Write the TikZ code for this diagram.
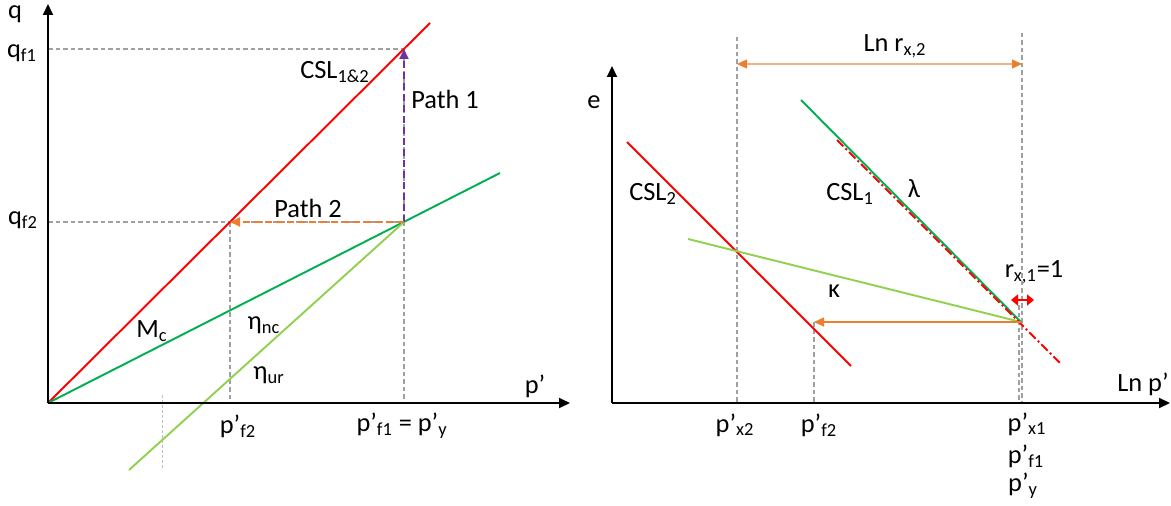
\documentclass[tikz,border=0pt]{standalone}
\usepackage{fontspec}
\setmainfont{Carlito}
\usetikzlibrary{arrows.meta,positioning}
\definecolor{cslred}{HTML}{FF0000}
\definecolor{ncgreen}{HTML}{00B050}
\definecolor{urgreen}{HTML}{92D050}
\definecolor{pathorange}{HTML}{ED7D31}
\definecolor{pathpurple}{HTML}{7030A0}
\definecolor{guide}{HTML}{A0A0A0}
\newcommand{\sbs}[1]{\textsubscript{#1}}
\tikzset{
    every picture/.style={line cap=butt,line join=round},
    axisline/.style={draw=black,line width=1.1pt,
      -{Triangle[length=2.2mm,width=2mm]}},
    guideline/.style={draw=guide,line width=0.6pt,dash pattern=on 0.9mm off 0.6mm},
    faintline/.style={draw=guide!70,line width=0.5pt,dash pattern=on 0.5mm off 0.5mm},
    cslline/.style={draw=cslred,line width=1.1pt},
    ncline/.style={draw=ncgreen,line width=1.1pt},
    urline/.style={draw=urgreen,line width=1.1pt},
    pathone/.style={draw=pathpurple,line width=1.1pt,dash pattern=on 1.4mm off 0.8mm,
      -{Triangle[length=2mm,width=1.8mm]}},
    pathtwo/.style={draw=pathorange,line width=1.1pt,dash pattern=on 1.4mm off 0.8mm,
      -{Triangle[length=2mm,width=1.8mm]}},
    shiftarrow/.style={draw=pathorange,line width=0.8pt,
      -{Triangle[length=2mm,width=1.8mm]}},
    spanarrow/.style={draw=pathorange!60,line width=0.8pt,
      {Triangle[length=2mm,width=1.8mm,color=pathorange]}-{Triangle[length=2mm,width=1.8mm,color=pathorange]}},
    unitarrow/.style={draw=cslred,line width=1.4pt,
      {Triangle[length=1.4mm,width=2.2mm]}-{Triangle[length=1.4mm,width=2.2mm]}},
    dashdot/.style={draw=cslred,line width=1.1pt,dash pattern=on 1.8mm off 0.6mm on 0.4mm off 0.6mm},
    lbl/.style={font=\fontsize{15}{17}\selectfont,inner sep=0pt,text=black}
}

\begin{document}
\begin{tikzpicture}[x=0.2mm,y=-0.2mm]
  \useasboundingbox (0,0) rectangle (1171,506);
  % q - p' plane
  \coordinate (o1) at (48,403);
  \coordinate (q1top) at (48,4);
  \coordinate (p1end) at (570,403);
  \coordinate (csltop) at (430,23);
  \coordinate (f1) at (404,49);
  \coordinate (yld) at (404,222);
  \coordinate (f2) at (230,222);
  \coordinate (ncend) at (500,173);
  \coordinate (urstart) at (129,470);
  \coordinate (qf1ax) at (48,49);
  \coordinate (qf2ax) at (48,222);
  \coordinate (pf2ax) at (230,403);
  \coordinate (pyax) at (404,403);
  \coordinate (dottop) at (162,395);
  \coordinate (dotbot) at (162,470);

  \draw[guideline] (qf1ax) -- (f1);
  \draw[guideline] (qf2ax) -- (yld);
  \draw[guideline] (f2) -- (pf2ax);
  \draw[guideline] (f1) -- (pyax);
  \draw[faintline] (dottop) -- (dotbot);
  \draw[cslline] (o1) -- (csltop);
  \draw[ncline] (o1) -- (ncend);
  \draw[urline] (urstart) -- (yld);
  \draw[pathone] (yld) -- (f1);
  \draw[pathtwo] (yld) -- (f2);
  \draw[axisline] (o1) -- (q1top);
  \draw[axisline] (o1) -- (p1end);

  \node[lbl] (qlab) at (15,14) {q};
  \node[lbl] (qf1) at (22,53) {q\sbs{f1}};
  \node[lbl] (qf2) at (23,220) {q\sbs{f2}};
  \node[lbl] (csl12) at (335,72) {CSL\sbs{1\&2}};
  \node[lbl] (path1) at (445,99) {Path 1};
  \node[lbl] (path2) at (308,208) {Path 2};
  \node[lbl] (mc) at (152,331) {M\sbs{c}};
  \node[lbl] (etanc) at (264,325) {η\sbs{nc}};
  \node[lbl] (etaur) at (269,375) {η\sbs{ur}};
  \node[lbl] (plab) at (535,386) {p’};
  \node[lbl] (pf2) at (238,426) {p’\sbs{f2}};
  \node[lbl] (pf1) at (402,426) {p’\sbs{f1} = p’\sbs{y}};

  % e - ln p' plane
  \coordinate (o2) at (612,403);
  \coordinate (etop) at (612,66);
  \coordinate (lnend) at (1170,403);
  \coordinate (xtwotop) at (737,37);
  \coordinate (xtwoax) at (737,403);
  \coordinate (xonetop) at (1022,33);
  \coordinate (xoneax) at (1022,403);
  \coordinate (xonebis) at (1019,305);
  \coordinate (xonebisax) at (1019,403);
  \coordinate (spanl) at (737,64);
  \coordinate (spanr) at (1022,64);
  \coordinate (csltwoa) at (627,142);
  \coordinate (csltwob) at (851,366);
  \coordinate (cslonea) at (801,100);
  \coordinate (crit) at (1021,322);
  \coordinate (dda) at (837,140);
  \coordinate (ddb) at (1060,363);
  \coordinate (kappaa) at (688,239);
  \coordinate (ftwo) at (814,322);
  \coordinate (ftwoax) at (814,403);
  \coordinate (unitl) at (1011,300);
  \coordinate (unitr) at (1034,300);

  \draw[guideline] (xtwotop) -- (xtwoax);
  \draw[guideline] (xonetop) -- (xoneax);
  \draw[guideline] (xonebis) -- (xonebisax);
  \draw[guideline] (ftwo) -- (ftwoax);
  \draw[spanarrow] (spanl) -- (spanr);
  \draw[cslline] (csltwoa) -- (csltwob);
  \draw[urline] (kappaa) -- (crit);
  \draw[ncline] (cslonea) -- (crit);
  \draw[dashdot] (dda) -- (ddb);
  \draw[shiftarrow] (crit) -- (ftwo);
  \draw[unitarrow] (unitl) -- (unitr);
  \draw[axisline] (o2) -- (etop);
  \draw[axisline] (o2) -- (lnend);

  \node[lbl] (elab) at (594,102) {e};
  \node[lbl] (lnrx2) at (895,46) {Ln r\sbs{x,2}};
  \node[lbl] (csl2) at (653,194) {CSL\sbs{2}};
  \node[lbl] (csl1) at (850,194) {CSL\sbs{1}};
  \node[lbl] (lam) at (914,189) {λ};
  \node[lbl] (kap) at (834,291) {κ};
  \node[lbl] (rx1) at (1034,272) {r\sbs{x,1}=1};
  \node[lbl] (lnp) at (1143,384) {Ln p’};
  \node[lbl] (px2) at (735,425) {p’\sbs{x2}};
  \node[lbl] (pf2r) at (819,425) {p’\sbs{f2}};
  \node[lbl] (px1) at (1027,424) {p’\sbs{x1}};
  \node[lbl] (pf1r) at (1026,456) {p’\sbs{f1}};
  \node[lbl] (pyr) at (1023,486) {p’\sbs{y}};
\end{tikzpicture}
\end{document}
